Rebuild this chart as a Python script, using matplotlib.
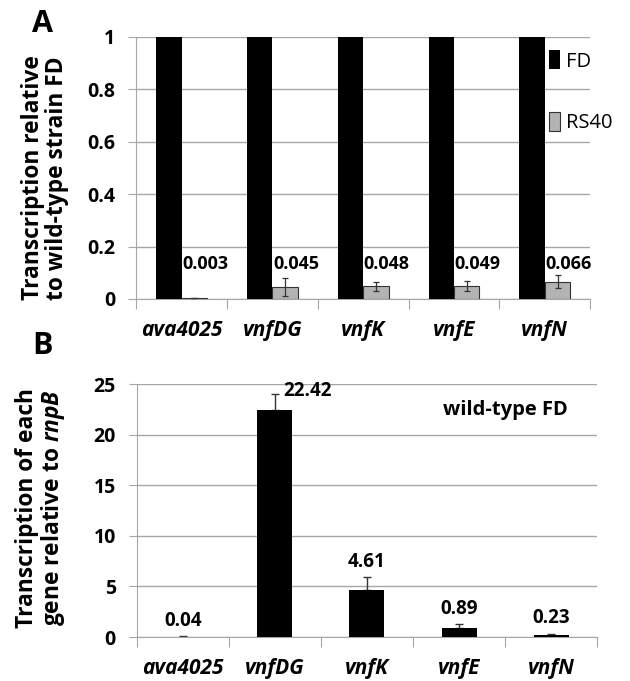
import numpy as np
import matplotlib
matplotlib.use("Agg")
import matplotlib.pyplot as plt

plt.rcParams['font.family'] = ['Open Sans', 'DejaVu Sans']
plt.rcParams['mathtext.fontset'] = 'custom'
plt.rcParams['mathtext.bfit'] = 'Open Sans:bold:italic'

genes = ['ava4025', 'vnfDG', 'vnfK', 'vnfE', 'vnfN']

# panel A: relative to wild-type FD
fd_rel = [1, 1, 1, 1, 1]
rs40_rel = [0.003, 0.045, 0.048, 0.049, 0.066]
rs40_err = [0.001, 0.035, 0.016, 0.019, 0.025]

# panel B: relative to rnpB in wild-type FD
wt_vals = [0.04, 22.42, 4.61, 0.89, 0.23]
wt_err = [0.03, 1.6, 1.3, 0.4, 0.1]

grid_col = '#a6a6a6'

fig = plt.figure(figsize=(6.3, 6.81), dpi=100)
axA = fig.add_axes([0.216, 0.561, 0.721, 0.385])
axB = fig.add_axes([0.217, 0.0646, 0.731, 0.3715])

x = np.arange(len(genes))

def style_axis(ax, ymax, yticks, ylabels):
    ax.set_xlim(-0.5, len(genes) - 0.5)
    ax.set_ylim(0, ymax)
    ax.set_yticks(yticks)
    ax.set_yticklabels(ylabels, fontsize=14, fontweight='bold')
    ax.yaxis.grid(True, color=grid_col, linewidth=1)
    ax.set_axisbelow(True)
    for s in ['top', 'right']:
        ax.spines[s].set_visible(False)
    ax.spines['left'].set_color(grid_col)
    ax.spines['bottom'].set_color(grid_col)
    ax.tick_params(axis='y', length=6, color=grid_col, pad=9)
    ax.set_xticks(np.arange(len(genes) + 1) - 0.5)
    ax.set_xticklabels([])
    ax.tick_params(axis='x', length=7, color=grid_col)
    for i, g in enumerate(genes):
        ax.annotate(g, (i, 0), xycoords=('data', 'data'), xytext=(0, -23),
                    textcoords='offset points', ha='center', va='center',
                    fontsize=15, fontweight='bold', fontstyle='italic')

# ---- panel A
w = 0.28
axA.bar(x - w / 2, fd_rel, w, color='black', label='FD', zorder=3)
axA.bar(x + w / 2, rs40_rel, w, color='#b3b3b3', edgecolor='#333333',
        linewidth=0.8, label='RS40', zorder=3)
axA.errorbar(x + w / 2, rs40_rel, yerr=rs40_err, fmt='none', ecolor='#333333',
             elinewidth=0.9, capsize=2.5, capthick=0.9, zorder=4)
style_axis(axA, 1.0, [0, 0.2, 0.4, 0.6, 0.8, 1.0],
           ['0', '0.2', '0.4', '0.6', '0.8', '1'])
for i, v in enumerate(rs40_rel):
    axA.text(i + w / 2 + 0.12, 0.135, '%.3f' % v, ha='center', va='center',
             fontsize=13, fontweight='bold', zorder=5)
leg = axA.legend(loc='upper left', bbox_to_anchor=(0.892, 0.98), frameon=False,
                 fontsize=14.5, handlelength=0.55, handleheight=1.1,
                 handletextpad=0.3, labelspacing=2.0, borderaxespad=0)
fig.text(45 / 630, 1 - 178 / 681,
         'Transcription relative\nto wild-type strain FD', fontsize=16.4,
         fontweight='bold', rotation=90, ha='center', va='center',
         linespacing=1.0)

# ---- panel B
wb = 0.38
axB.bar(x, wt_vals, wb, color='black', zorder=3)
axB.errorbar(x, wt_vals, yerr=[np.zeros(len(wt_err)), wt_err], fmt='none',
             ecolor='#333333', elinewidth=1, capsize=3, capthick=1, zorder=2)
style_axis(axB, 25, [0, 5, 10, 15, 20, 25], ['0', '5', '10', '15', '20', '25'])
for i, (v, e) in enumerate(zip(wt_vals, wt_err)):
    if i == 1:
        axB.text(i + 0.36, v + e + 0.3, '%.2f' % v, ha='center', va='center',
                 fontsize=13.5, fontweight='bold')
    else:
        axB.annotate('%.2f' % v, (i, v + e), xytext=(0, 11),
                     textcoords='offset points', ha='center', va='center',
                     fontsize=13.5, fontweight='bold')
axB.text(3.5, 22.4, 'wild-type FD', ha='center', va='center', fontsize=14.5,
         fontweight='bold')
fig.text(41 / 630, 1 - 508 / 681,
         'Transcription of each\ngene relative to $\\mathbfit{rnpB}$',
         fontsize=16.4, fontweight='bold', rotation=90, ha='center',
         va='center', linespacing=1.0)

fig.text(43 / 630, 1 - 24 / 681, 'A', fontsize=22, fontweight='bold',
         ha='center', va='center')
fig.text(43 / 630, 1 - 346 / 681, 'B', fontsize=22, fontweight='bold',
         ha='center', va='center')

fig.savefig('out.png', dpi=100)
